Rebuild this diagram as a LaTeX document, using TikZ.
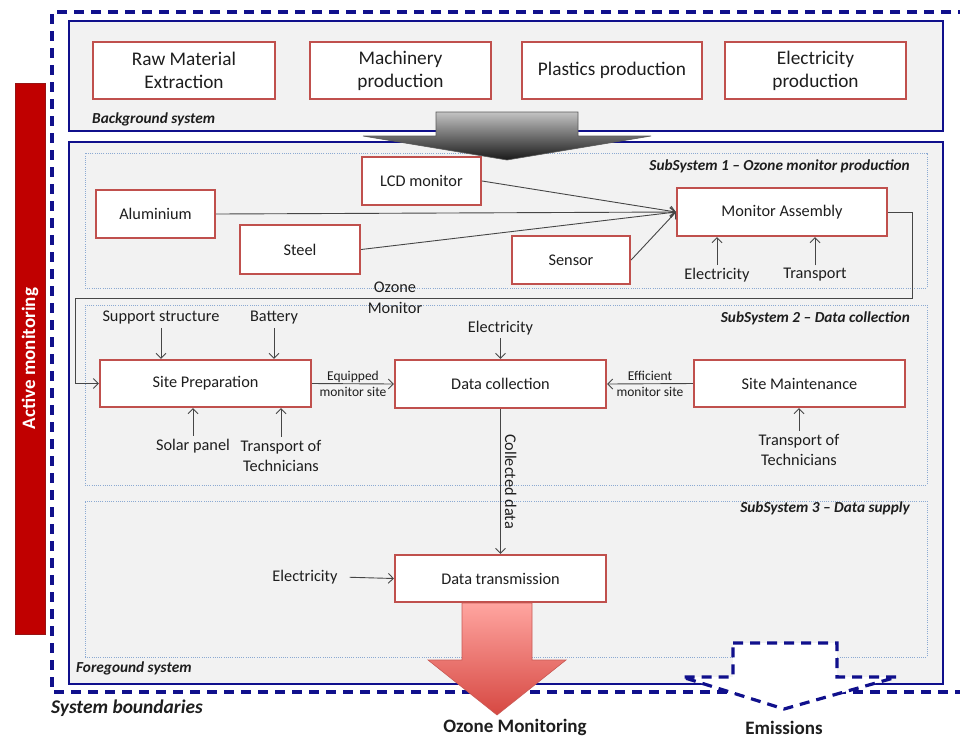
\documentclass[tikz,border=0pt]{standalone}
\usepackage{fontspec}
\setmainfont{Carlito}
\usetikzlibrary{arrows.meta,calc}
\definecolor{navy}{RGB}{16,16,140}
\definecolor{boxred}{RGB}{192,80,77}
\definecolor{panel}{RGB}{242,242,242}
\definecolor{subblue}{RGB}{140,170,210}
\definecolor{linegray}{RGB}{70,70,70}
\definecolor{txt}{RGB}{30,30,30}
\definecolor{amred}{RGB}{192,0,0}
\definecolor{amedge}{RGB}{150,20,20}
\definecolor{gtop}{RGB}{195,195,195}
\definecolor{gbot}{RGB}{25,25,25}
\definecolor{gedge}{RGB}{90,90,90}
\definecolor{rtop}{RGB}{255,165,160}
\definecolor{rbot}{RGB}{214,72,66}
\definecolor{redge}{RGB}{200,90,85}
\tikzset{
  procbox/.style={draw=boxred, line width=2.2pt, fill=white, inner sep=0pt, align=center, text=txt,
    font=\fontsize{16.3}{19}\selectfont},
  topbox/.style={procbox, minimum height=57pt, font=\fontsize{19.3}{23}\selectfont},
  lbl/.style={inner sep=3pt, align=center, text=txt, font=\fontsize{16.3}{20.5}\selectfont},
  smalllbl/.style={inner sep=0.5pt, align=center, text=txt, font=\fontsize{13.5}{16}\selectfont},
  arr/.style={draw=linegray, line width=0.9pt, -{Straight Barb[length=5pt,width=10pt]}},
  sysbox/.style={draw=navy, line width=2.6pt, fill=panel, inner sep=0pt},
  subbox/.style={draw=subblue, line width=0.7pt, dash pattern=on 1pt off 1.2pt, fill=panel, inner sep=0pt},
  ital/.style={font=\fontsize{15.3}{18}\selectfont\bfseries\itshape, inner sep=0pt, text=txt},
  boundary/.style={draw=navy, line width=3.2pt, dash pattern=on 10pt off 7pt},
  outlbl/.style={font=\fontsize{19}{23}\selectfont\bfseries, inner sep=0pt, text=txt}
}
\begin{document}
\begin{tikzpicture}[x=1pt,y=-1pt]
\useasboundingbox (0,0) rectangle (960,740);
\fill[white] (0,0) rectangle (960,740);

% active monitoring bar
\node[fill=amred, draw=amedge, line width=0.6pt, rotate=90, minimum width=551pt, minimum height=30pt,
  inner sep=0pt, text=white, font=\fontsize{19}{23}\selectfont\bfseries] (am) at (30,358.5) {Active monitoring};

% system boundary
\draw[boundary] (968,12) -- (52,12) -- (52,692) -- (968,692);

% background & foreground systems
\node[sysbox, minimum width=874pt, minimum height=110pt] (bg) at (506,76) {};
\node[sysbox, minimum width=874pt, minimum height=542pt] (fg) at (506,413) {};
\node[subbox, minimum width=842pt, minimum height=135pt] (ss1) at (506,220.5) {};
\node[subbox, minimum width=842pt, minimum height=180pt] (ss2) at (506,395) {};
\node[subbox, minimum width=842pt, minimum height=156pt] (ss3) at (506,579) {};

% grey arrow
\coordinate (gtip) at (507,160);
\shadedraw[top color=gtop, bottom color=gbot, draw=gedge, line width=0.6pt]
  (436,112) -- (578,112) -- (578,136) -- (651,136) -- (gtip) -- (363,136) -- (436,136) -- cycle;

% top boxes
\node[topbox, minimum width=182pt] (raw) at (184,70.5) {Raw Material\\Extraction};
\node[topbox, minimum width=181pt] (mach) at (400.5,70.5) {Machinery\\production};
\node[topbox, minimum width=180pt] (plast) at (612,70.5) {Plastics production};
\node[topbox, minimum width=181pt] (elecp) at (815.5,70.5) {Electricity\\production};
\node[ital, anchor=west] (bglbl) at (92,119) {Background system};

% subsystem 1
\node[ital, anchor=east] (ss1lbl) at (910,166) {SubSystem 1 – Ozone monitor production};
\node[procbox, minimum width=119pt, minimum height=48pt] (lcd) at (421.5,181) {LCD monitor};
\node[procbox, minimum width=119pt, minimum height=48pt] (alu) at (155.5,214) {Aluminium};
\node[procbox, minimum width=120pt, minimum height=49pt] (steel) at (300,249.5) {Steel};
\node[procbox, minimum width=118pt, minimum height=48pt] (sensor) at (571,260) {Sensor};
\node[procbox, minimum width=210pt, minimum height=48pt] (assem) at (782,212) {Monitor Assembly};
\node[lbl] (el1) at (717,275) {Electricity};
\node[lbl] (tr1) at (815,275) {Transport};

\draw[arr] (lcd.east) -- (assem.west);
\draw[arr] (alu.east) -- (assem.west);
\draw[arr] (steel.east) -- (assem.west);
\draw[arr] (sensor.east) -- (assem.west);
\draw[arr] (el1.north) -- (el1.north |- assem.south);
\draw[arr] (tr1.north) -- (tr1.north |- assem.south);

% subsystem 2
\node[ital, anchor=east] (ss2lbl) at (910,318) {SubSystem 2 – Data collection};
\node[procbox, minimum width=211pt, minimum height=47pt] (sitep) at (205.5,383.5) {Site Preparation};
\node[procbox, minimum width=211pt, minimum height=48pt] (datac) at (500.5,384) {Data collection};
\node[procbox, minimum width=211pt, minimum height=47pt] (sitem) at (799.5,383.5) {Site Maintenance};
\node[lbl] (sup) at (161,318) {Support structure};
\node[lbl] (bat) at (274,318) {Battery};
\node[lbl] (el2) at (500.5,328) {Electricity};
\node[lbl] (sol) at (193,446) {Solar panel};
\node[lbl] (tt1) at (281,456) {Transport of\\Technicians};
\node[lbl] (tt2) at (799,450) {Transport of\\Technicians};

\draw[arr] (sup.south) -- (sup.south |- sitep.north);
\draw[arr] (bat.south) -- (bat.south |- sitep.north);
\draw[arr] (el2.south) -- (el2.south |- datac.north);
\draw[arr] (sol.north) -- (sol.north |- sitep.south);
\draw[arr] (tt1.north) -- (tt1.north |- sitep.south);
\draw[arr] (tt2.north) -- (tt2.north |- sitem.south);

\draw[arr] (sitep.east) -- node[smalllbl] (eqlbl) {Equipped\\monitor site} (datac.west);
\draw[arr] (sitem.west) -- node[smalllbl] (eflbl) {Efficient\\monitor site} (datac.east);

% ozone monitor loop
\coordinate (c1) at (912,298);
\coordinate (c2) at (75,298);
\draw[arr] (assem.east) -| (c1) -- (c2) |- (sitep.west);
\node[lbl, inner sep=0pt] (ozlbl) at (395,298) {Ozone\\Monitor};

% subsystem 3
\node[ital, anchor=east] (ss3lbl) at (910,508) {SubSystem 3 – Data supply};
\node[procbox, minimum width=211pt, minimum height=47pt] (datat) at (500.5,578.5) {Data transmission};
\node[lbl] (el3) at (305,577) {Electricity};
\draw[arr, shorten <=9pt] (el3.east) -- (datat.west);
\draw[arr] (datac.south) -- node[rotate=-90, anchor=south, lbl, inner sep=4pt] (coll) {Collected data} (datat.north);

\node[ital, anchor=west] (fglbl) at (76,668) {Foregound system};

% red arrow
\coordinate (rtip) at (497,715);
\shadedraw[top color=rtop, bottom color=rbot, draw=redge, line width=0.6pt]
  (462,603) -- (532,603) -- (532,660) -- (566,660) -- (rtip) -- (428,660) -- (462,660) -- cycle;

% emissions arrow
\coordinate (etip) at (784,709);
\filldraw[fill=white, boundary] (733,643) -- (837,643) -- (837,677) -- (897,677) -- (etip) -- (682,677) -- (733,677) -- cycle;

\node[font=\fontsize{19.4}{23}\selectfont\bfseries\itshape, inner sep=0pt, text=txt, anchor=west] (sblbl) at (51,708) {System boundaries};
\node[outlbl] (ozm) at (515,727) {Ozone Monitoring};
\node[outlbl] (emi) at (784,728) {Emissions};
\end{tikzpicture}
\end{document}
